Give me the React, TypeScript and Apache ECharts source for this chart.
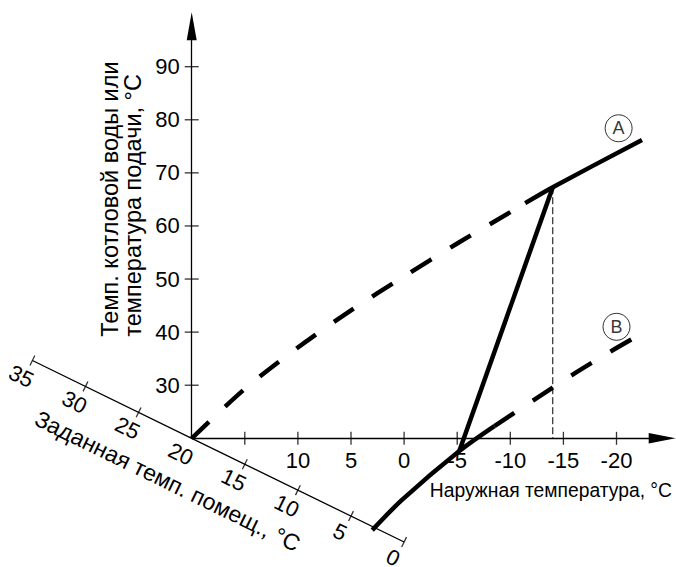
import React, { useEffect, useRef } from 'react';
import * as echarts from 'echarts';

// Tick values / labels
const outdoorTicks = [15, 10, 5, 0, -5, -10, -15, -20];
const outdoorLabels = [10, 5, 0, -5, -10, -15, -20];
const flowTicks = [30, 40, 50, 60, 70, 80, 90];
const roomTicks = [35, 30, 25, 15, 10, 5, 0];
const roomLabels = [35, 30, 25, 20, 15, 10, 5, 0];

// Curve A (set room temp 20 °C)
const curveADashedOutdoor = [20, 15, 10, 5, 0, -5, -10, -11.4];
const curveADashedFlow = [20, 29.3, 37.1, 44.1, 50.5, 56.7, 62.6, 64.3];
const curveASolidOutdoor = [-11.4, -14, -22.4];
const curveASolidFlow = [64.3, 67.3, 76.2];

// Curve B (lowered room temp)
const curveBSolidOutdoor = [3.0, 0.2, -5.2, -8.5];
const curveBSolidFlow = [2.7, 8.4, 17.6, 22.3];
const curveBDashedOutdoor = [-8.5, -12.2, -15.8, -19.4, -22.0];
const curveBDashedFlow = [22.3, 27.2, 31.9, 36.3, 39.3];

// Shift line between curves, design outdoor temperature
const shiftOutdoor = [-14, -5.2];
const shiftFlow = [67.3, 17.6];
const designOutdoor = [-14, -14];
const designFlow = [67.3, 20];

// Curve markers
const markerNames = ['A', 'B'];
const markerOutdoor = [-20.2, -20.0];
const markerFlow = [78.4, 41.0];

const FONT = '"Liberation Sans", Arial, Helvetica, sans-serif';
const ROOM_RATIO = 0.977;
const roomToPoint = (r: number) => [r, 20 - (20 - r) * ROOM_RATIO];
const zip = (xs: number[], ys: number[]) => xs.map((x, i) => [x, ys[i]]);

const GRID_LEFT = 32.4;
const ORIGIN_X = 191.7;

function buildOption(): any {
  const curveLine = (data: number[][], dashed: boolean) => ({
    type: 'line',
    data,
    symbol: 'none',
    smooth: 0.3,
    clip: false,
    silent: true,
    lineStyle: {
      color: '#000',
      width: 4.5,
      type: dashed ? [24, 22] : 'solid',
      cap: 'butt',
    },
    z: 5,
  });
  return {
    animation: false,
    backgroundColor: '#fff',
    grid: {
      left: GRID_LEFT,
      right: 6.4,
      top: 13.6,
      bottom: 128.7,
      containLabel: false,
      outerBoundsMode: 'none',
    },
    xAxis: {
      type: 'value',
      min: -25,
      max: 35,
      interval: 5,
      inverse: true,
      axisLine: { show: false },
      axisTick: { show: false },
      splitLine: { show: false },
      axisLabel: {
        formatter: (v: number) => (outdoorLabels.includes(v) ? String(v) : ''),
        fontSize: 22,
        fontFamily: FONT,
        color: '#000',
        margin: 11,
      },
    },
    yAxis: {
      type: 'value',
      min: 20,
      max: 100,
      interval: 10,
      offset: -(ORIGIN_X - GRID_LEFT),
      axisLine: { show: false },
      axisTick: { show: false },
      splitLine: { show: false },
      axisLabel: {
        formatter: (v: number) => (flowTicks.includes(v) ? String(v) : ''),
        fontSize: 22,
        fontFamily: FONT,
        color: '#000',
        margin: 12,
      },
    },
    series: [
      {
        id: 'roomAxis',
        type: 'line',
        data: [roomToPoint(35), roomToPoint(20), roomToPoint(0)],
        symbol: 'none',
        clip: false,
        silent: true,
        lineStyle: { color: '#000', width: 1.3 },
        markLine: {
          silent: true,
          symbol: ['none', 'none'],
          label: { show: false },
          lineStyle: { color: '#000', width: 1.3, type: 'solid' },
          data: [
            [
              { coord: [20, 20], symbol: 'none' },
              { coord: [-24.3, 20], symbol: 'triangle', symbolSize: [10.5, 27] },
            ],
            [
              { coord: [20, 20], symbol: 'none' },
              { coord: [20, 97.6], symbol: 'triangle', symbolSize: [10, 28] },
            ],
          ],
        },
      },
      {
        id: 'xTicks',
        type: 'scatter',
        data: outdoorTicks.map((v) => [v, 20]),
        symbol: 'rect',
        symbolSize: [1.3, 13],
        clip: false,
        silent: true,
        itemStyle: { color: '#000' },
      },
      {
        id: 'yTicks',
        type: 'scatter',
        data: flowTicks.map((v) => [20, v]),
        symbol: 'rect',
        symbolSize: [14, 1.3],
        clip: false,
        silent: true,
        itemStyle: { color: '#000' },
      },
      {
        id: 'roomTicks',
        type: 'scatter',
        data: roomTicks.map(roomToPoint),
        symbol: 'rect',
        symbolSize: [1.3, 11],
        symbolRotate: -26,
        clip: false,
        silent: true,
        itemStyle: { color: '#000' },
      },
      curveLine(zip(curveADashedOutdoor, curveADashedFlow), true),
      curveLine(zip(curveASolidOutdoor, curveASolidFlow), false),
      curveLine(zip(curveBSolidOutdoor, curveBSolidFlow), false),
      curveLine(zip(curveBDashedOutdoor, curveBDashedFlow), true),
      {
        type: 'line',
        data: zip(shiftOutdoor, shiftFlow),
        symbol: 'none',
        clip: false,
        silent: true,
        lineStyle: { color: '#000', width: 4.5 },
        z: 5,
      },
      {
        type: 'line',
        data: zip(designOutdoor, designFlow),
        symbol: 'none',
        clip: false,
        silent: true,
        lineStyle: { color: '#000', width: 1, type: [7, 3] },
        z: 4,
      },
      {
        type: 'scatter',
        data: markerNames.map((n, i) => ({ name: n, value: [markerOutdoor[i], markerFlow[i]] })),
        symbol: 'circle',
        symbolSize: 27,
        clip: false,
        silent: true,
        itemStyle: { color: '#fff', borderColor: '#000', borderWidth: 1 },
        label: {
          show: true,
          position: 'inside',
          formatter: '{b}',
          fontSize: 18,
          fontFamily: FONT,
          color: '#000',
        },
        z: 6,
      },
    ],
  };
}

export default function App() {
  const ref = useRef<HTMLDivElement>(null);
  useEffect(() => {
    const el = ref.current!;
    const chart = echarts.init(el, null, { renderer: 'svg' });
    chart.setOption(buildOption());
    const px = (p: number[]) => chart.convertToPixel({ gridIndex: 0 } as any, p) as unknown as number[];
    const a = px(roomToPoint(35));
    const b = px(roomToPoint(0));
    const ang = Math.atan2(b[1] - a[1], b[0] - a[0]);
    const dx = Math.cos(ang);
    const dy = Math.sin(ang);
    const nx = -dy;
    const ny = dx;
    const graphic: any[] = [];
    roomLabels.forEach((r) => {
      const p = px(roomToPoint(r));
      graphic.push({
        type: 'text',
        x: p[0] + dx * -3 + nx * 19,
        y: p[1] + dy * -3 + ny * 19,
        rotation: -ang,
        silent: true,
        style: {
          text: String(r),
          fontSize: 22,
          fontFamily: FONT,
          fill: '#000',
          align: 'center',
          verticalAlign: 'middle',
        },
      });
    });
    const o = px(roomToPoint(20));
    graphic.push({
      type: 'text',
      x: o[0] + dx * -3 + nx * 49,
      y: o[1] + dy * -3 + ny * 49,
      rotation: -ang,
      silent: true,
      style: {
        text: 'Заданная темп. помещ., °C',
        fontSize: 23,
        fontFamily: FONT,
        fill: '#000',
        align: 'center',
        verticalAlign: 'middle',
      },
    });
    graphic.push({
      type: 'text',
      x: 121,
      y: 336.7,
      rotation: Math.PI / 2,
      silent: true,
      style: {
        text: 'Темп. котловой воды или\nтемпература подачи, °C',
        fontSize: 23.5,
        lineHeight: 23,
        fontFamily: FONT,
        fill: '#000',
        align: 'left',
        verticalAlign: 'middle',
      },
    });
    graphic.push({
      type: 'text',
      x: 672,
      y: 490,
      silent: true,
      style: {
        text: 'Наружная температура, °C',
        fontSize: 19.3,
        fontFamily: FONT,
        fill: '#000',
        align: 'right',
        verticalAlign: 'middle',
      },
    });
    chart.setOption({
      graphic,
      series: [{ id: 'roomTicks', symbolRotate: (-ang * 180) / Math.PI }],
    });
    return () => chart.dispose();
  }, []);
  return (
    <div
      ref={ref}
      style={{ position: 'fixed', left: 0, top: 0, width: 676, height: 567, background: '#fff' }}
    />
  );
}
